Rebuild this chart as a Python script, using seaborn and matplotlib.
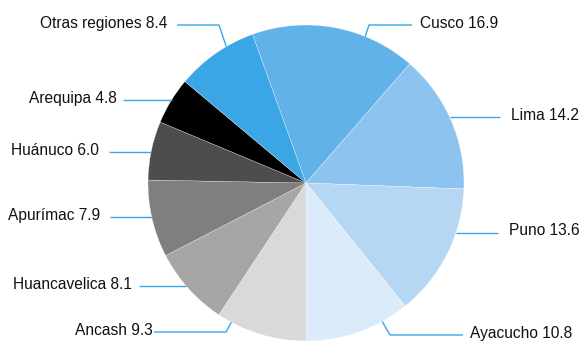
import numpy as np
import matplotlib
matplotlib.use("Agg")
import matplotlib.pyplot as plt
import seaborn as sns

# Share of each region (percent), clockwise
regions = ["Cusco", "Lima", "Puno", "Ayacucho", "Ancash", "Huancavelica",
           "Apurímac", "Huánuco", "Arequipa", "Otras regiones"]
shares = [16.9, 14.2, 13.6, 10.8, 9.3, 8.1, 7.9, 6.0, 4.8, 8.4]
labels = [f"{r} {v:.1f}" for r, v in zip(regions, shares)]

slice_colors = ["#62B2EA", "#8DC3EF", "#B5D7F4", "#DCEBFA", "#D9D9D9",
                "#A6A6A6", "#7F7F7F", "#4D4D4D", "#000000", "#3AA6E6"]
leader_color = "#3AA6E6"

# Leader layout: angle on the rim (deg), elbow point, end of the horizontal run,
# text anchor x
leader_angle = [68, 24.7, -18.4, -61.2, 241.8, 220.7, 192.4, 168.7, 148.3, 120.3]
elbow = [(0.399, 1.0), None, None, (0.532, -0.962), (-0.506, -0.943),
         None, None, None, None, (-0.551, 1.0)]
run_end = [0.671, 1.228, 1.215, 0.994, -0.962, -1.057, -1.241, -1.247, -1.158, -0.816]
text_x = [0.722, 1.297, 1.285, 1.038, -0.968, -1.101, -1.304, -1.310, -1.196, -0.880]

sns.set_theme(style="white")
plt.rcParams["font.family"] = ["Liberation Sans", "DejaVu Sans"]

W, H, DPI = 581, 342, 100
fig = plt.figure(figsize=(W / DPI, H / DPI), dpi=DPI)
ax = fig.add_axes([0, 0, 1, 1])
R = 158.0
cx, cy = 306.0, 183.0

# Ancash's slice begins straight down; the pie runs clockwise from there backwards
start = -90 + sum(shares[:4]) * 3.6
ax.pie(shares, colors=slice_colors, startangle=start, counterclock=False,
       radius=1.0, center=(0, 0), frame=True,
       wedgeprops=dict(edgecolor="white", linewidth=0.2))
ax.set_xlim(-cx / R, (W - cx) / R)
ax.set_ylim(-(H - cy) / R, cy / R)
ax.set_aspect("auto")
ax.axis("off")

for lab, ang, el, ex, tx in zip(labels, leader_angle, elbow, run_end, text_x):
    a = np.deg2rad(ang)
    px, py = np.cos(a), np.sin(a)
    if el is None:
        xs, ys = [px, ex], [py, py]
        ty = py
    else:
        xs, ys = [px, el[0], ex], [py, el[1], el[1]]
        ty = el[1]
    ax.plot(xs, ys, color=leader_color, lw=1.0, solid_capstyle="butt", clip_on=False)
    ha = "left" if tx > 0 else "right"
    ax.text(tx, ty + 0.012, lab, ha=ha, va="center", fontsize=11.2, color="#111111")

fig.savefig("out.png", dpi=DPI)
